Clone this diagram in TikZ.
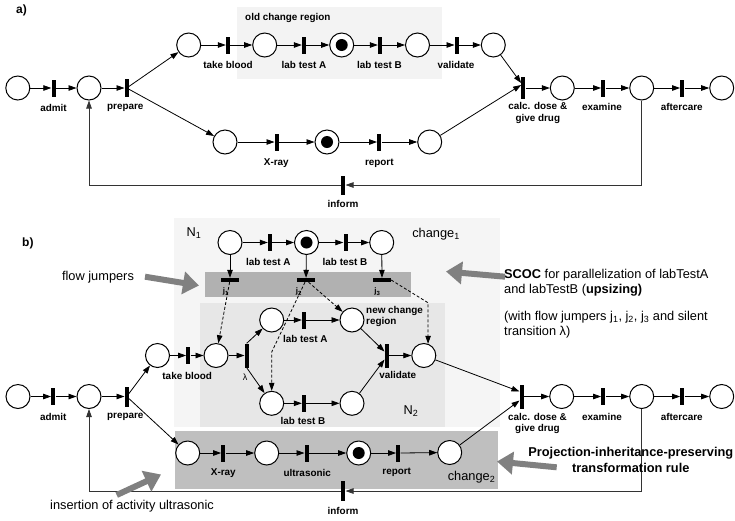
\documentclass[tikz,border=0pt]{standalone}
\usepackage{fontspec}
\setmainfont{Liberation Sans}
\usetikzlibrary{arrows.meta}
\definecolor{oldreg}{HTML}{F3F3F3}
\definecolor{outerb}{HTML}{F5F5F5}
\definecolor{ntwo}{HTML}{E7E7E7}
\definecolor{strip}{HTML}{B1B1B1}
\definecolor{chtwo}{HTML}{BFBFBF}
\definecolor{bigarr}{HTML}{808080}
\begin{document}
\begin{tikzpicture}[x=1pt,y=-1pt,
 pl/.style={circle,draw,line width=1pt,minimum size=24pt,inner sep=0pt,fill=white},
 tr/.style={rectangle,fill=black,minimum width=4pt,minimum height=17pt,inner sep=0pt},
 trt/.style={tr,minimum height=24pt},
 fj/.style={rectangle,fill=black,minimum width=18pt,minimum height=4pt,inner sep=0pt},
 arc/.style={-{Triangle[length=8pt,width=5.5pt]},line width=0.8pt},
 darc/.style={arc,dash pattern=on 3pt off 2pt},
 fb/.style={arc,draw=black!80},
 lbl/.style={font=\fontsize{9.9}{11.6}\selectfont\bfseries,inner sep=0pt,align=center},
 jl/.style={font=\fontsize{8}{9}\selectfont\bfseries,inner sep=0pt},
 txt/.style={font=\fontsize{12.8}{15}\selectfont,inner sep=0pt},
 btxt/.style={font=\fontsize{12.8}{16}\selectfont\bfseries,inner sep=0pt,align=center},
 big/.style={line width=6pt,draw=bigarr,-{Triangle[length=16pt,width=22pt]}},
]
\useasboundingbox (0,0) rectangle (735,520);
% ---------------- a) ----------------
\fill[oldreg] (237,7) rectangle (441.7,79);
\node[anchor=west,font=\fontsize{12}{14}\selectfont\bfseries,inner sep=0pt] (la) at (16,10) {a)};
\node[lbl,anchor=west] (ocr) at (245,18) {old change region};

\node[pl] (a1) at (17.8,88) {};
\node[tr] (aadmit) at (53.5,88) {};
\node[pl] (a2) at (89,88) {};
\node[tr,minimum height=18pt] (aprep) at (126.7,88) {};
\node[pl] (a3) at (188.7,45) {};
\node[tr] (atb) at (228,45) {};
\node[pl] (a4) at (264.7,45) {};
\node[tr] (alA) at (304,45) {};
\node[pl] (a5) at (341.7,45) {};
\node[tr] (alB) at (380,45) {};
\node[pl] (a6) at (417.5,45) {};
\node[tr] (aval) at (456.7,45) {};
\node[pl] (a7) at (493.3,45) {};
\node[tr,minimum height=22pt] (acalc) at (523.3,88) {};
\node[pl] (a11) at (562.3,88) {};
\node[tr] (aexam) at (603.3,88) {};
\node[pl] (a12) at (641.7,88) {};
\node[tr] (aafter) at (682.3,88) {};
\node[pl] (a13) at (721.7,88) {};
\node[pl] (a8) at (225,142) {};
\node[tr] (axray) at (276.7,142) {};
\node[pl] (a9) at (327,142) {};
\node[tr] (arep) at (379.3,142) {};
\node[pl] (a10) at (429.7,142) {};
\node[tr,minimum height=19pt] (ainf) at (343.3,185) {};
\fill (a5) circle (6);
\fill (a9) circle (6);

\node[lbl] (tadmit) at (53.5,108) {admit};
\node[lbl] (tprep) at (125.3,108) {prepare};
\node[lbl] (ttb) at (228,65) {take blood};
\node[lbl] (tlA) at (304,65) {lab test A};
\node[lbl] (tlB) at (379.5,65) {lab test B};
\node[lbl] (tval) at (456,65) {validate};
\node[lbl] (tcalc) at (537.8,113) {calc. dose \&\\give drug};
\node[lbl] (texam) at (602,107) {examine};
\node[lbl] (tafter) at (681.7,107) {aftercare};
\node[lbl] (txray) at (276.3,163) {X-ray};
\node[lbl] (trep) at (379.3,163) {report};
\node[lbl] (tinf) at (343,204) {inform};

\draw[arc] (a1) -- (aadmit);
\draw[arc] (aadmit) -- (a2);
\draw[arc] (a2) -- (aprep);
\draw[arc] (aprep) -- (a3);
\draw[arc] (aprep) -- (a8);
\draw[arc] (a3) -- (atb);
\draw[arc] (atb) -- (a4);
\draw[arc] (a4) -- (alA);
\draw[arc] (alA) -- (a5);
\draw[arc] (a5) -- (alB);
\draw[arc] (alB) -- (a6);
\draw[arc] (a6) -- (aval);
\draw[arc] (aval) -- (a7);
\draw[arc] (a7) -- ([yshift=5pt]acalc.west);
\draw[arc] (a10) -- ([yshift=3pt]acalc.west);
\draw[arc] (a8) -- (axray);
\draw[arc] (axray) -- (a9);
\draw[arc] (a9) -- (arep);
\draw[arc] (arep) -- (a10);
\draw[arc] (acalc) -- (a11);
\draw[arc] (a11) -- (aexam);
\draw[arc] (aexam) -- (a12);
\draw[arc] (a12) -- (aafter);
\draw[arc] (aafter) -- (a13);
\draw[fb] (a12.south) |- (ainf.east);
\draw[fb] (ainf.west) -| (a2.south);

% ---------------- b) ----------------
\fill[outerb] (174,218) rectangle (500,427);
\fill[ntwo] (200,302.7) rectangle (445,427);
\fill[strip] (205,272) rectangle (411,297.3);
\fill[chtwo] (175,431) rectangle (497.7,489.3);

\node[anchor=west,font=\fontsize{12}{14}\selectfont\bfseries,inner sep=0pt] (lb) at (22,243) {b)};
\node[txt] (nN1) at (194,233) {N\textsubscript{1}};
\node[txt] (nch1) at (436,234) {change\textsubscript{1}};
\node[txt] (nN2) at (411,411.5) {N\textsubscript{2}};
\node[txt] (nch2) at (471.5,476.7) {change\textsubscript{2}};
\node[lbl,anchor=west,align=left] (ncr) at (366,316.5) {new change\\region};

% N1 row
\node[pl] (q1) at (230,242.5) {};
\node[tr] (qA) at (270,242.5) {};
\node[pl] (q2) at (306.5,242.5) {};
\node[tr] (qB) at (345.5,242.5) {};
\node[pl] (q3) at (381.7,242.5) {};
\fill (q2) circle (6);
\node[lbl] (tqA) at (268.3,261.7) {lab test A};
\node[lbl] (tqB) at (345,261.7) {lab test B};
\node[fj] (j1) at (230,280) {};
\node[fj] (j2) at (306,280) {};
\node[fj] (j3) at (382,280) {};
\node[jl] (tj1) at (226,291.7) {j\textsubscript{1}};
\node[jl] (tj2) at (299,291.7) {j\textsubscript{2}};
\node[jl] (tj3) at (377.5,291.7) {j\textsubscript{3}};

% main row b
\node[pl] (b1) at (18,396.5) {};
\node[tr] (badmit) at (53.3,396.5) {};
\node[pl] (b2) at (89,396.5) {};
\node[tr,minimum height=20pt] (bprep) at (126.7,396.5) {};
\node[pl] (c1) at (157.5,355.5) {};
\node[tr] (btb) at (188.3,355.5) {};
\node[pl] (c2) at (216,355.5) {};
\node[trt] (blam) at (246.7,355.5) {};
\node[pl] (r1) at (271.7,320) {};
\node[tr] (rA) at (304,320) {};
\node[pl] (r2) at (352,320) {};
\node[pl] (r3) at (271.7,403.3) {};
\node[tr] (rB) at (304,403.3) {};
\node[pl] (r4) at (352,403.3) {};
\node[trt] (bval) at (386.7,355.5) {};
\node[pl] (r5) at (423.8,355.5) {};
\node[trt] (bcalc) at (521.7,396.5) {};
\node[pl] (b11) at (561.7,396.5) {};
\node[tr] (bexam) at (603.3,396.5) {};
\node[pl] (b12) at (641.7,396.5) {};
\node[tr] (bafter) at (682.3,396.5) {};
\node[pl] (b13) at (721.7,396.5) {};
\node[pl] (s1) at (187.7,453) {};
\node[tr] (sx) at (223.3,453) {};
\node[pl] (s2) at (266.7,453) {};
\node[tr] (su) at (306.7,453) {};
\node[pl] (s3) at (358.7,453) {};
\node[tr] (sr) at (398.3,453) {};
\node[pl] (s4) at (449.7,452.5) {};
\fill (s3) circle (6);
\node[tr,minimum height=20pt] (binf) at (343.3,491) {};

\node[lbl] (tbadmit) at (53.3,416.7) {admit};
\node[lbl] (tbprep) at (125.3,416.7) {prepare};
\node[lbl] (tbtb) at (187.2,376) {take blood};
\node[font=\fontsize{9}{10}\selectfont,inner sep=0pt] (tlam) at (245,377) {λ};
\node[lbl] (trA) at (305.3,339) {lab test A};
\node[lbl] (trB) at (303,421) {lab test B};
\node[lbl] (tbval) at (397.7,375) {validate};
\node[lbl] (tbcalc) at (537.5,423.3) {calc. dose \&\\give drug};
\node[lbl] (tbexam) at (602,417) {examine};
\node[lbl] (tbafter) at (681.7,417) {aftercare};
\node[lbl] (tsx) at (223.3,473.3) {X-ray};
\node[lbl] (tsu) at (307.2,473) {ultrasonic};
\node[lbl] (tsr) at (396.7,472.7) {report};
\node[lbl] (tbinf) at (343,510.7) {inform};

\draw[arc] (q1) -- (qA);
\draw[arc] (qA) -- (q2);
\draw[arc] (q2) -- (qB);
\draw[arc] (qB) -- (q3);
\draw[arc] (q1) -- (j1);
\draw[arc] (q2) -- (j2);
\draw[arc] (q3) -- (j3);

\draw[arc] (b1) -- (badmit);
\draw[arc] (badmit) -- (b2);
\draw[arc] (b2) -- (bprep);
\draw[arc] (bprep) -- (c1);
\draw[arc] (bprep) -- (s1);
\draw[arc] (c1) -- (btb);
\draw[arc] (btb) -- (c2);
\draw[arc] (c2) -- (blam);
\draw[arc] (blam.north) -- (r1);
\draw[arc] (blam.south) -- (r3);
\draw[arc] (r1) -- (rA);
\draw[arc] (rA) -- (r2);
\draw[arc] (r3) -- (rB);
\draw[arc] (rB) -- (r4);
\draw[arc] (r2) -- ([yshift=4pt]bval.west);
\draw[arc] (r4) -- ([yshift=-4pt]bval.west);
\draw[arc] (bval) -- (r5);
\draw[arc] (r5) -- ([yshift=5pt]bcalc.west);
\draw[arc] (s4) -- ([yshift=-4pt]bcalc.west);
\draw[arc] (bcalc) -- (b11);
\draw[arc] (b11) -- (bexam);
\draw[arc] (bexam) -- (b12);
\draw[arc] (b12) -- (bafter);
\draw[arc] (bafter) -- (b13);
\draw[arc] (s1) -- (sx);
\draw[arc] (sx) -- (s2);
\draw[arc] (s2) -- (su);
\draw[arc] (su) -- (s3);
\draw[arc] (s3) -- (sr);
\draw[arc] (sr) -- (s4);
\draw[fb] (b12.south) |- (binf.east);
\draw[fb] (binf.west) -| (b2.south);

% flow jumper dashed arcs
\coordinate (bj2) at (271.7,352);
\path (r5.70) ++(0,-41) coordinate (bj3);
\draw[darc] (j1) -- (c2);
\draw[darc] (j2) -- (r2);
\draw[darc] (j2) -- (bj2) -- (r3);
\draw[darc] (j3.east) -- (bj3) -- (r5.70);

% annotations
\node[txt] (tfj) at (98,277) {flow jumpers};
\coordinate (fjs) at (145,276.7);
\coordinate (fje) at (199,285.5);
\draw[big] (fjs) -- (fje);

\node[txt,anchor=west] (sc1) at (504,275) {\textbf{SCOC} for parallelization of labTestA};
\node[txt,anchor=west] (sc2) at (504,290) {and labTestB (\textbf{upsizing)}};
\node[txt,anchor=west] (sc3) at (504,316.7) {(with flow jumpers j\textsubscript{1}, j\textsubscript{2}, j\textsubscript{3} and silent};
\node[txt,anchor=west] (sc4) at (504,331.7) {transition λ)};
\coordinate (scs) at (505,276.7);
\coordinate (sce) at (446,271.5);
\draw[big] (scs) -- (sce);

\node[btxt] (pj) at (630.8,460.3) {Projection-inheritance-preserving\\transformation rule};
\coordinate (pjs) at (556.7,467.3);
\coordinate (pje) at (497,461.5);
\draw[big] (pjs) -- (pje);

\node[txt] (ins) at (132,505.7) {insertion of activity ultrasonic};
\coordinate (ins1) at (116.7,495);
\coordinate (ins2) at (161,474.5);
\draw[big] (ins1) -- (ins2);
\end{tikzpicture}
\end{document}
